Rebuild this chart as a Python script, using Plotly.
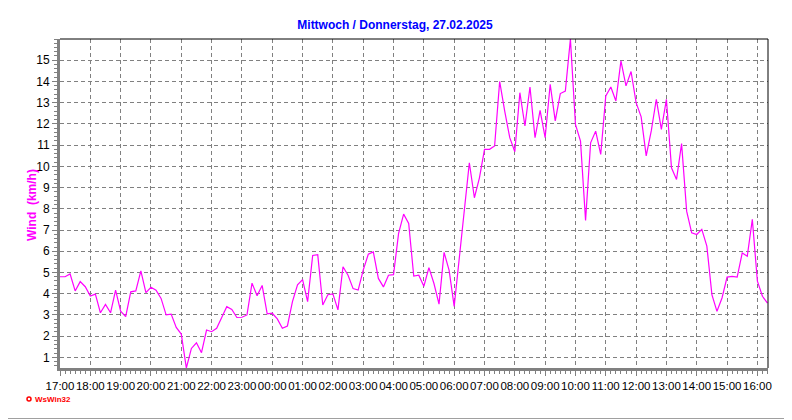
import pandas as pd
import plotly.graph_objects as go

title_text = "Mittwoch / Donnerstag, 27.02.2025"
y_title = "Wind\u00a0 (km/h)"
start_time = "2025-02-26 17:00"
end_time = "2025-02-27 16:21"
step = "10min"

wind_kmh = [
    4.8, 4.8, 4.93, 4.13, 4.57, 4.33, 3.89, 3.98, 3.1, 3.5,
    3.1, 4.17, 3.18, 2.92, 4.09, 4.13, 5.08, 4.05, 4.3, 4.17,
    3.78, 3.0, 3.04, 2.41, 2.1, 0.5, 1.42, 1.69, 1.22, 2.29,
    2.21, 2.37, 2.88, 3.39, 3.26, 2.88, 2.89, 3.0, 4.5, 3.9,
    4.39, 3.05, 3.08, 2.81, 2.37, 2.48, 3.63, 4.42, 4.66, 3.63,
    5.8, 5.84, 3.47, 3.95, 3.99, 3.24, 5.27, 4.87, 4.24, 4.17,
    5.11, 5.86, 5.97, 4.72, 4.32, 4.87, 4.9, 6.84, 7.75, 7.31,
    4.83, 4.87, 4.35, 5.23, 4.48, 3.51, 5.95, 5.1, 3.4, 5.7,
    8.0, 10.17, 8.52, 9.46, 10.8, 10.8, 10.96, 14.0, 12.6, 11.35,
    10.69, 13.47, 11.9, 13.74, 11.35, 12.64, 11.35, 13.87, 12.14, 13.43,
    13.55, 16.0, 11.98, 11.19, 7.45, 11.11, 11.66, 10.56, 13.32, 13.74,
    13.08, 14.97, 13.79, 14.47, 13.0, 12.33, 10.49, 11.67, 13.16, 11.74,
    13.16, 9.93, 9.38, 11.07, 7.89, 6.87, 6.79, 7.03, 6.24, 3.96,
    3.17, 3.8, 4.78, 4.82, 4.78, 5.92, 5.77, 7.5, 4.59, 3.88,
    3.56,
]
times = pd.date_range(start=start_time, periods=len(wind_kmh), freq=step)
y_ticks = list(range(1, 16))

# page is rendered with an 8px body margin -> shift the figure accordingly
OFF = 8
W, H = 792 - OFF, 420 - OFF
ML, MT = 60 - OFF, 39 - OFF
MR = W - (768 - OFF)
MB = H - (368 - OFF)
PW, PH = W - ML - MR, H - MT - MB


def px_x(px):  # page pixel -> paper coordinate
    return (px - OFF - ML) / PW


def px_y(py):
    return (H - MB - (py - OFF)) / PH


fig = go.Figure()
fig.add_trace(go.Scatter(
    x=times, y=wind_kmh, mode="lines",
    line=dict(color="#FF00FF", width=1.2),
    hoverinfo="skip", showlegend=False,
))

x_tick_font = dict(family="Liberation Sans, Arial, sans-serif", size=11.5, color="black")
y_tick_font = dict(family="Liberation Sans, Arial, sans-serif", size=12, color="black")

fig.update_layout(
    width=W, height=H,
    margin=dict(l=ML, r=MR, t=MT, b=MB, autoexpand=False),
    paper_bgcolor="white", plot_bgcolor="white",
    title=dict(
        text=title_text, x=(395 - OFF) / W, xanchor="center", xref="container",
        y=1 - (25 - OFF) / H, yanchor="middle", yref="container",
        font=dict(family="Liberation Sans Narrow, Arial Narrow, sans-serif",
                  size=12, color="#0000FF", weight="bold"),
    ),
    showlegend=False,
)

fig.update_xaxes(
    type="date",
    range=[start_time, end_time],
    dtick=3600000, tick0=start_time, tickformat="%H:%M", tickangle=0,
    showgrid=True, gridcolor="#808080", griddash="4px,3px", gridwidth=1,
    showline=True, linecolor="#808080", linewidth=3,
    ticks="outside", ticklen=5, tickcolor="#808080", tickwidth=1,
    minor=dict(dtick=600000, ticks="outside", ticklen=3, tickcolor="#808080", showgrid=False),
    tickfont=x_tick_font, zeroline=False, fixedrange=True, automargin=False,
)
fig.update_yaxes(
    range=[0.5, 16.0],
    tickvals=y_ticks, ticktext=[str(v) for v in y_ticks],
    showgrid=True, gridcolor="#808080", griddash="4px,3px", gridwidth=1,
    showline=True, linecolor="#808080", linewidth=3,
    ticks="outside", ticklen=5, tickcolor="#808080", tickwidth=1,
    minor=dict(dtick=0.2, tick0=0, ticks="outside", ticklen=3, tickcolor="#808080", showgrid=False),
    tickfont=y_tick_font, zeroline=False, fixedrange=True, automargin=False,
)

# black top/right frame of the plot area
fig.add_shape(type="line", xref="paper", yref="paper", x0=0, x1=1, y0=1, y1=1,
              line=dict(color="black", width=1))
fig.add_shape(type="line", xref="paper", yref="paper", x0=1, x1=1, y0=0, y1=1,
              line=dict(color="black", width=1))

# outer gray shadow edges of the image
fig.add_shape(type="line", xref="paper", yref="paper",
              x0=px_x(790.5), x1=px_x(790.5), y0=px_y(OFF), y1=px_y(420),
              line=dict(color="#A0A0A0", width=1))
fig.add_shape(type="line", xref="paper", yref="paper",
              x0=px_x(OFF), x1=px_x(792), y0=px_y(418.5), y1=px_y(418.5),
              line=dict(color="#A0A0A0", width=1))

# y-axis title
fig.add_annotation(
    text=y_title, xref="paper", yref="paper", x=px_x(32), y=px_y(205),
    xanchor="center", yanchor="middle", textangle=-90, showarrow=False,
    font=dict(family="Liberation Sans Narrow, Arial Narrow, sans-serif",
              size=12, color="#FF00FF", weight="bold"),
)

# WsWin32 logo
fig.add_shape(type="circle", xref="paper", yref="paper",
              x0=px_x(27), x1=px_x(31), y0=px_y(401), y1=px_y(397),
              line=dict(color="#FF0000", width=1.5))
fig.add_annotation(
    text="WsWin32", xref="paper", yref="paper", x=px_x(33), y=px_y(399),
    xanchor="left", yanchor="middle", showarrow=False,
    font=dict(family="Liberation Sans, Arial, sans-serif", size=8,
              color="#FF0000", weight="bold"),
)

fig.write_html("out.html")
